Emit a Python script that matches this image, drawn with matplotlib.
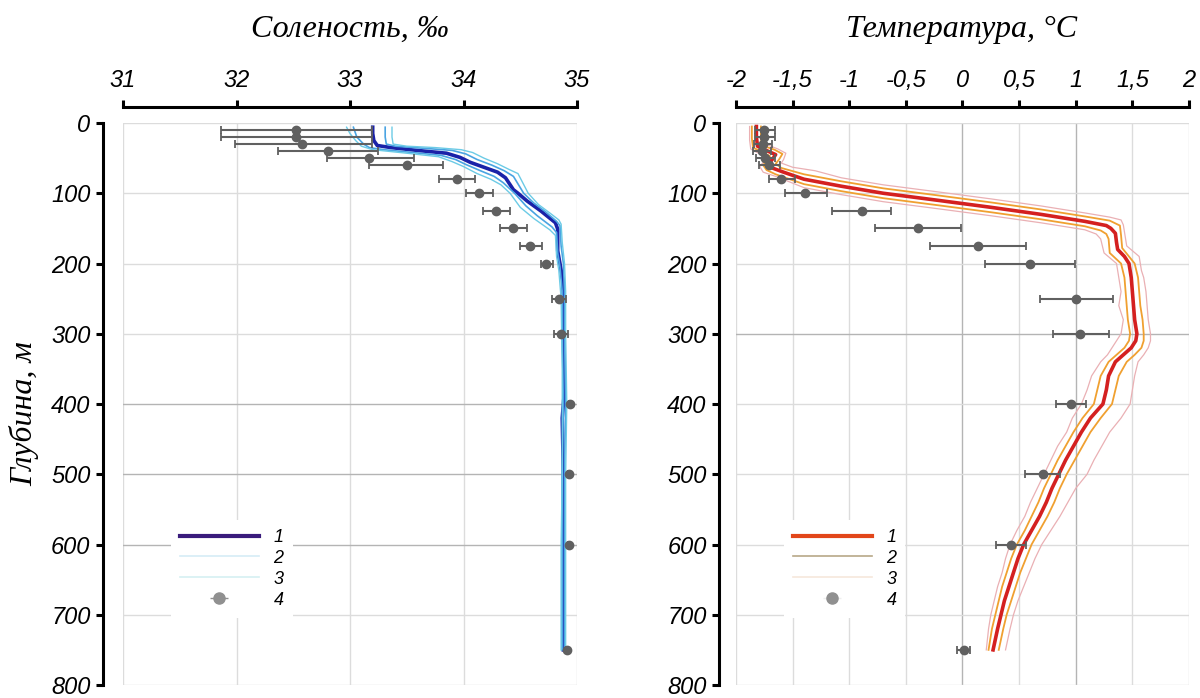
"""Salinity and temperature profiles: model vs observations."""

import matplotlib
matplotlib.use("Agg")
import matplotlib.pyplot as plt
from matplotlib.lines import Line2D

# ---- salinity (left panel) ----
sal1_s = [33.20, 33.20, 33.21, 33.24, 33.36, 33.59, 33.85, 33.97, 34.06, 34.18, 34.30, 34.37,
          34.44, 34.48, 34.56, 34.68, 34.81, 34.83, 34.83, 34.85, 34.88, 34.88, 34.89, 34.87,
          34.88, 34.88, 34.88]
sal1_d = [6, 15, 25, 32, 35, 39, 43, 49, 56, 63, 70, 78,
          95, 100, 111, 125, 142, 151, 182, 200, 228, 300, 380, 420,
          500, 600, 750]

sal2a_s = [33.03, 33.06, 33.12, 33.17, 33.30, 33.55, 33.80, 33.93, 34.02, 34.15, 34.27, 34.35,
           34.45, 34.55, 34.65, 34.78, 34.82, 34.83, 34.85, 34.87, 34.87, 34.88, 34.87, 34.87, 34.87]
sal2a_d = [6, 20, 30, 35, 38, 42, 46, 52, 59, 68, 76, 85,
           100, 118, 132, 148, 156, 185, 205, 240, 300, 400, 500, 600, 750]
sal2b_s = [33.31, 33.31, 33.32, 33.40, 33.65, 33.90, 34.02, 34.12, 34.25, 34.36, 34.44, 34.53,
           34.62, 34.72, 34.82, 34.85, 34.86, 34.88, 34.89, 34.89, 34.90, 34.89, 34.89, 34.89]
sal2b_d = [6, 20, 30, 33, 36, 39, 44, 52, 60, 68, 76, 100,
           114, 126, 140, 146, 175, 200, 240, 300, 400, 500, 600, 750]

sal3a_s = [32.97, 33.00, 33.05, 33.10, 33.20, 33.50, 33.78, 33.90, 34.00, 34.12, 34.24, 34.33,
           34.41, 34.50, 34.62, 34.76, 34.81, 34.82, 34.84, 34.86, 34.87, 34.87, 34.86, 34.86]
sal3a_d = [6, 15, 25, 33, 38, 43, 48, 55, 62, 72, 80, 88,
           100, 120, 136, 152, 160, 190, 210, 250, 350, 500, 600, 750]
sal3b_s = [33.37, 33.37, 33.38, 33.50, 33.75, 33.98, 34.08, 34.18, 34.30, 34.40, 34.48, 34.57,
           34.66, 34.76, 34.84, 34.86, 34.87, 34.89, 34.90, 34.90, 34.91, 34.90, 34.90, 34.90]
sal3b_d = [6, 20, 30, 33, 35, 38, 42, 50, 58, 66, 72, 100,
           116, 128, 138, 144, 170, 200, 240, 300, 400, 500, 600, 750]

sal_obs_s = [32.52, 32.52, 32.58, 32.81, 33.17, 33.50, 33.94, 34.14, 34.29, 34.44, 34.59, 34.73,
             34.84, 34.86, 34.94, 34.93, 34.93, 34.91]
sal_obs_d = [10, 20, 30, 40, 50, 60, 80, 100, 125, 150, 175, 200,
             250, 300, 400, 500, 600, 750]
sal_obs_lo = [31.86, 31.86, 31.99, 32.37, 32.80, 33.17, 33.78, 34.02, 34.17, 34.32, 34.50, 34.68,
              34.78, 34.80, 34.93, 34.92, 34.92, 34.90]
sal_obs_hi = [33.19, 33.19, 33.19, 33.25, 33.56, 33.82, 34.10, 34.26, 34.41, 34.56, 34.69, 34.79,
              34.90, 34.92, 34.95, 34.94, 34.94, 34.92]

# ---- temperature (right panel) ----
tem1_t = [-1.82, -1.82, -1.81, -1.72, -1.65, -1.68, -1.71, -1.68, -1.58, -1.40, -1.07, -0.70,
          -0.22, 0.25, 0.69, 1.08, 1.27, 1.31, 1.35, 1.36, 1.37, 1.43, 1.47, 1.49, 1.50, 1.51,
          1.52, 1.54, 1.53, 1.49, 1.42, 1.35, 1.29, 1.27, 1.24, 1.13, 1.05, 0.98, 0.91, 0.85,
          0.79, 0.74, 0.68, 0.61, 0.54, 0.49, 0.45, 0.41, 0.37, 0.34, 0.31, 0.27]
tem1_d = [5, 20, 33, 40, 45, 52, 58, 64, 70, 80, 90, 100,
          110, 120, 130, 140, 146, 150, 157, 170, 180, 190, 200, 220, 240, 260,
          280, 300, 310, 320, 330, 340, 360, 380, 400, 420, 440, 460, 480, 500,
          520, 540, 560, 580, 600, 620, 640, 660, 680, 700, 720, 750]

tem2a_t = [-1.86, -1.86, -1.85, -1.76, -1.70, -1.73, -1.76, -1.73, -1.65, -1.40, -1.07, -0.70,
           -0.22, 0.25, 0.69, 1.08, 1.22, 1.27, 1.29, 1.30, 1.40, 1.43, 1.44, 1.45, 1.46, 1.48,
           1.47, 1.43, 1.36, 1.29, 1.22, 1.19, 1.16, 1.06, 0.98, 0.91, 0.84, 0.78, 0.72, 0.67,
           0.61, 0.55, 0.48, 0.43, 0.39, 0.35, 0.32, 0.29, 0.26, 0.23]
tem2a_d = [5, 22, 35, 42, 47, 54, 60, 67, 73, 87, 97, 107,
           117, 127, 137, 147, 153, 158, 165, 185, 200, 220, 240, 260, 280, 300,
           310, 320, 330, 340, 360, 380, 400, 420, 440, 460, 480, 500, 520, 540,
           560, 580, 600, 620, 640, 660, 680, 700, 720, 750]
tem2b_t = [-1.78, -1.78, -1.77, -1.66, -1.59, -1.62, -1.65, -1.60, -1.40, -1.07, -0.70, -0.22,
           0.25, 0.69, 1.08, 1.30, 1.39, 1.40, 1.41, 1.52, 1.55, 1.56, 1.57, 1.59, 1.60, 1.60,
           1.58, 1.52, 1.45, 1.38, 1.35, 1.32, 1.22, 1.13, 1.06, 0.99, 0.92, 0.86, 0.81, 0.75,
           0.68, 0.61, 0.56, 0.51, 0.47, 0.43, 0.39, 0.36, 0.32]
tem2b_d = [5, 20, 32, 38, 44, 52, 58, 64, 73, 83, 93, 103,
           113, 123, 133, 139, 146, 160, 178, 200, 220, 240, 260, 280, 300, 310,
           320, 330, 340, 360, 380, 400, 420, 440, 460, 480, 500, 520, 540, 560,
           580, 600, 620, 640, 660, 680, 700, 720, 750]

tem3a_t = [-1.88, -1.88, -1.87, -1.79, -1.73, -1.76, -1.79, -1.76, -1.65, -1.40, -1.07, -0.70,
           -0.22, 0.25, 0.69, 1.08, 1.18, 1.22, 1.25, 1.36, 1.38, 1.40, 1.38, 1.42, 1.40, 1.36,
           1.32, 1.28, 1.22, 1.14, 1.10, 1.05, 0.97, 0.92, 0.84, 0.78, 0.72, 0.66, 0.60, 0.55,
           0.48, 0.42, 0.38, 0.35, 0.31, 0.28, 0.25, 0.23, 0.21]
tem3a_d = [5, 24, 37, 44, 50, 56, 62, 70, 76, 92, 102, 112,
           122, 132, 142, 152, 158, 165, 185, 200, 220, 240, 260, 280, 300, 310,
           320, 330, 340, 360, 380, 400, 420, 440, 460, 480, 500, 520, 540, 560,
           580, 600, 620, 640, 660, 680, 700, 720, 750]
tem3b_t = [-1.75, -1.75, -1.74, -1.63, -1.56, -1.58, -1.60, -1.50, -1.30, -1.07, -0.70, -0.22,
           0.25, 0.69, 1.08, 1.30, 1.40, 1.42, 1.45, 1.56, 1.58, 1.60, 1.62, 1.63, 1.64, 1.66,
           1.66, 1.64, 1.60, 1.55, 1.52, 1.50, 1.48, 1.40, 1.30, 1.23, 1.16, 1.10, 1.00, 0.93,
           0.86, 0.78, 0.70, 0.64, 0.59, 0.54, 0.49, 0.45, 0.42, 0.38]
tem3b_d = [5, 20, 30, 37, 43, 52, 57, 63, 68, 78, 88, 98,
           108, 118, 128, 134, 138, 145, 175, 190, 210, 220, 240, 260, 280, 300,
           310, 320, 330, 340, 360, 380, 400, 420, 440, 460, 480, 500, 520, 540,
           560, 580, 600, 620, 640, 660, 680, 700, 720, 750]

tem_obs_t = [-1.75, -1.75, -1.76, -1.77, -1.74, -1.71, -1.60, -1.39, -0.89, -0.39, 0.135, 0.60,
             1.00, 1.04, 0.96, 0.71, 0.43, 0.01]
tem_obs_d = [10, 20, 30, 40, 50, 60, 80, 100, 125, 150, 175, 200,
             250, 300, 400, 500, 600, 750]
tem_obs_lo = [-1.83, -1.83, -1.84, -1.85, -1.82, -1.80, -1.71, -1.57, -1.15, -0.77, -0.29, 0.20,
              0.68, 0.80, 0.83, 0.55, 0.30, -0.05]
tem_obs_hi = [-1.66, -1.66, -1.68, -1.69, -1.66, -1.61, -1.48, -1.20, -0.63, -0.01, 0.56, 0.99,
              1.33, 1.29, 1.09, 0.86, 0.56, 0.07]

sal_ticks = [31, 32, 33, 34, 35]
tem_ticks = [-2, -1.5, -1, -0.5, 0, 0.5, 1, 1.5, 2]
tem_ticklabels = ["-2", "-1,5", "-1", "-0,5", "0", "0,5", "1", "1,5", "2"]
depth_ticks = [0, 100, 200, 300, 400, 500, 600, 700, 800]
legend_labels = ["1", "2", "3", "4"]

SANS = {"family": ["Liberation Sans", "DejaVu Sans"], "style": "italic"}
SERIF = {"family": ["Liberation Serif", "DejaVu Serif"], "style": "italic"}
OBS_COLOR = "#606060"
GRID = "#dcdcdc"
GRID_DARK = "#b4b4b4"

fig = plt.figure(figsize=(12, 6.98), dpi=100)
ax_s = fig.add_axes([123 / 1200, 13 / 698, 454 / 1200, 562 / 698])
ax_t = fig.add_axes([736 / 1200, 13 / 698, 453 / 1200, 562 / 698])


def style_axes(ax, left_out):
    ax.set_ylim(800, 0)
    ax.set_yticks(depth_ticks)
    ax.xaxis.set_ticks_position("top")
    for side in ("right", "bottom"):
        ax.spines[side].set_visible(False)
    ax.spines["top"].set_position(("outward", 11.5))
    ax.spines["left"].set_position(("outward", left_out))
    for side in ("top", "left"):
        ax.spines[side].set_linewidth(2.2)
    ax.tick_params(axis="both", width=2.2, length=5, pad=4, labelsize=17)
    ax.tick_params(axis="x", pad=6)
    for lab in ax.get_xticklabels() + ax.get_yticklabels():
        lab.set_fontfamily(SANS["family"])
        lab.set_fontstyle("italic")
    ax.grid(True, color=GRID, linewidth=1.0)
    ax.set_axisbelow(True)


def draw_obs(ax, x, d, lo, hi):
    xerr = [[xi - l for xi, l in zip(x, lo)], [h - xi for xi, h in zip(x, hi)]]
    ax.errorbar(x, d, xerr=xerr, fmt="o", color=OBS_COLOR, ecolor=OBS_COLOR,
                markersize=6, elinewidth=1.5, capsize=3, capthick=1.3, zorder=5)


# salinity
ax_s.set_xlim(31, 35)
ax_s.set_xticks(sal_ticks)
ax_s.plot(sal1_s, sal1_d, color="#1a22a8", linewidth=2.6, zorder=3)
ax_s.plot(sal2a_s, sal2a_d, color="#4aa4e2", linewidth=1.2, zorder=4)
ax_s.plot(sal2b_s, sal2b_d, color="#4aa4e2", linewidth=1.2, zorder=4)
ax_s.plot(sal3a_s, sal3a_d, color="#6ccbe6", linewidth=1.0, zorder=4)
ax_s.plot(sal3b_s, sal3b_d, color="#6ccbe6", linewidth=1.0, zorder=4)
draw_obs(ax_s, sal_obs_s, sal_obs_d, sal_obs_lo, sal_obs_hi)
style_axes(ax_s, 14.4)
for i in (4, 5, 6):
    ax_s.get_ygridlines()[i].set_color(GRID_DARK)

# temperature
ax_t.set_xlim(-2, 2)
ax_t.set_xticks(tem_ticks)
ax_t.set_xticklabels(tem_ticklabels)
ax_t.plot(tem3a_t, tem3a_d, color="#eab0b4", linewidth=0.9, zorder=3)
ax_t.plot(tem3b_t, tem3b_d, color="#eab0b4", linewidth=0.9, zorder=3)
ax_t.plot(tem2a_t, tem2a_d, color="#f0a030", linewidth=1.3, zorder=3)
ax_t.plot(tem2b_t, tem2b_d, color="#f0a030", linewidth=1.3, zorder=3)
ax_t.plot(tem1_t, tem1_d, color="#d42020", linewidth=2.6, zorder=4)
draw_obs(ax_t, tem_obs_t, tem_obs_d, tem_obs_lo, tem_obs_hi)
style_axes(ax_t, 12.2)
ax_t.get_ygridlines()[3].set_color(GRID_DARK)
for i in (4, 6):
    ax_t.get_xgridlines()[i].set_color(GRID_DARK)

# legends
leg_s = [
    Line2D([], [], color="#3a1c7c", linewidth=3),
    Line2D([], [], color="#d6ecf6", linewidth=1.2),
    Line2D([], [], color="#d6f0f2", linewidth=1.2),
]
leg_t = [
    Line2D([], [], color="#e2461a", linewidth=3),
    Line2D([], [], color="#b8a888", linewidth=1.2),
    Line2D([], [], color="#f6e8dc", linewidth=1.2),
]
obs_s = ax_s.errorbar([], [], xerr=[], fmt="o", color="#909090", markersize=8,
                      elinewidth=1, capsize=5)
obs_t = ax_t.errorbar([], [], xerr=[], fmt="o", color="#909090", ecolor="#eeeeee",
                      markersize=8, elinewidth=1, capsize=5)

for ax, handles, obs in ((ax_s, leg_s, obs_s), (ax_t, leg_t, obs_t)):
    leg = ax.legend(handles + [obs], legend_labels, loc="upper left",
                    bbox_to_anchor=(0.085, 0.31), frameon=True, framealpha=1,
                    edgecolor="none", fancybox=False, handlelength=4.4,
                    handletextpad=0.8, labelspacing=0.22, borderpad=0.5,
                    prop={"family": SANS["family"], "style": "italic", "size": 13})
    leg.set_zorder(10)

# titles
fig.text(350 / 1200, 1 - 29 / 698, "Соленость, ‰", ha="center", va="center",
         fontsize=23, **SERIF)
fig.text(962 / 1200, 1 - 29 / 698, "Температура, °C", ha="center", va="center",
         fontsize=23, **SERIF)
fig.text(24 / 1200, 1 - 414 / 698, "Глубина, м", ha="center", va="center",
         rotation=90, fontsize=23, **SERIF)

fig.savefig("out.png", dpi=100)
